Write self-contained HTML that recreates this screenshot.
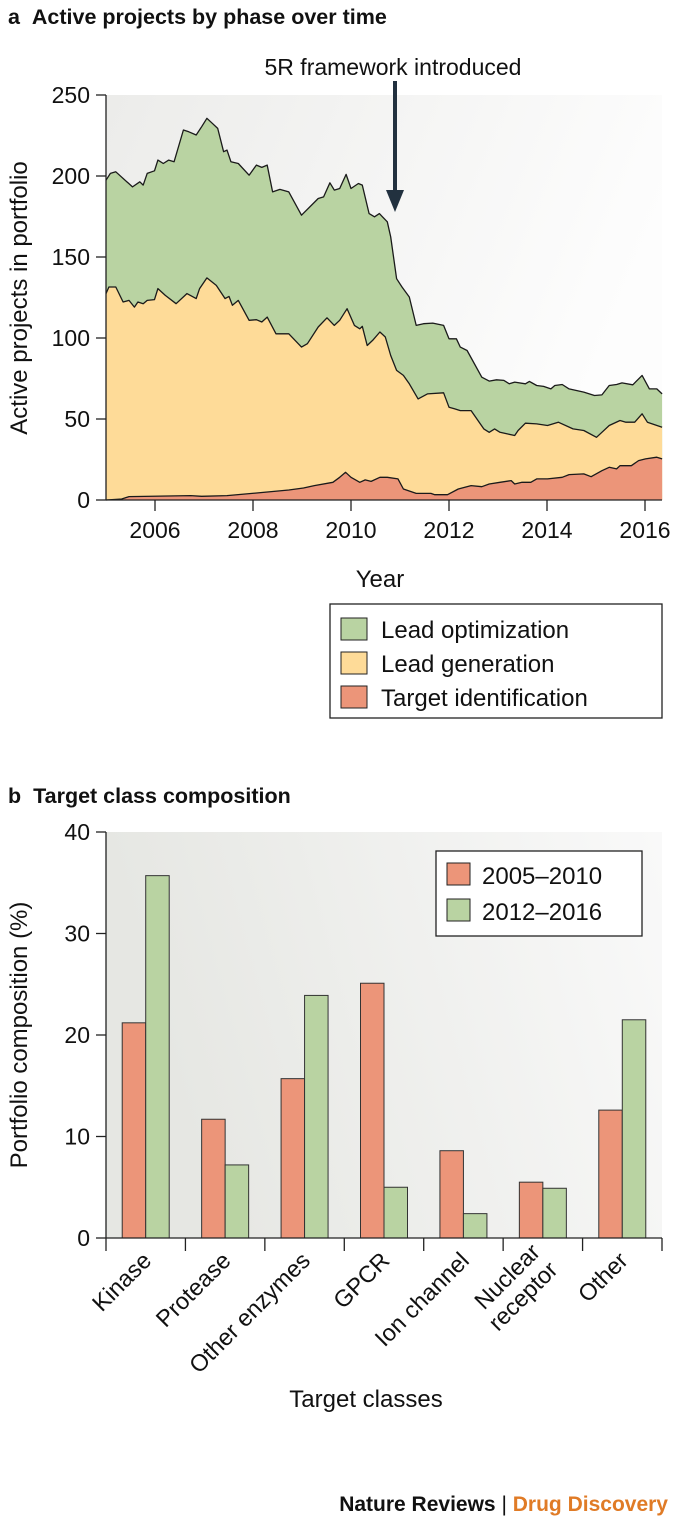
<!DOCTYPE html>
<html><head><meta charset="utf-8">
<style>
html,body{margin:0;padding:0;background:#fff;}
svg{display:block;font-family:"Liberation Sans",sans-serif;}
</style></head>
<body>
<svg id="fig" width="675" height="1533" viewBox="0 0 675 1533" xmlns="http://www.w3.org/2000/svg">
<defs>
<linearGradient id="bgA" x1="0" y1="0" x2="1" y2="0.3">
<stop offset="0" stop-color="#ececea"/><stop offset="1" stop-color="#fdfdfd"/></linearGradient>
<linearGradient id="bgB" x1="0" y1="0" x2="1" y2="-0.2">
<stop offset="0" stop-color="#e6e7e3"/><stop offset="1" stop-color="#fafafa"/></linearGradient>
</defs>
<g id="chartA">
<text x="8" y="24" font-size="21.5" font-weight="bold" fill="#111">a&#160;&#160;Active projects by phase over time</text>
<rect x="106" y="95" width="556" height="405" fill="url(#bgA)"/>
<g id="areasA"></g>
<g id="axesA"></g>
<text x="393" y="75" font-size="23" text-anchor="middle" fill="#111">5R framework introduced</text>
<line x1="395" y1="81" x2="395" y2="195" stroke="#22313f" stroke-width="4"/>
<polygon points="386,190 404,190 395,212" fill="#22313f"/>
<text transform="translate(27,298) rotate(-90)" font-size="24" text-anchor="middle" fill="#111">Active projects in portfolio</text>
<text x="380" y="587" font-size="24" text-anchor="middle" fill="#111">Year</text>
<g>
<rect x="330" y="604" width="332" height="114" fill="#fff" stroke="#222" stroke-width="1.3"/>
<rect x="341" y="618" width="26" height="22" fill="#b9d3a2" stroke="#222"/>
<text x="381" y="638" font-size="24" fill="#111">Lead optimization</text>
<rect x="341" y="652" width="26" height="22" fill="#fedb98" stroke="#222"/>
<text x="381" y="672" font-size="24" fill="#111">Lead generation</text>
<rect x="341" y="686" width="26" height="22" fill="#ec9579" stroke="#222"/>
<text x="381" y="706" font-size="24" fill="#111">Target identification</text>
</g>
</g>
<g id="chartB">
<text x="8" y="803" font-size="21.5" font-weight="bold" fill="#111">b&#160;&#160;Target class composition</text>
<rect x="106" y="832" width="556" height="406" fill="url(#bgB)"/>
<g id="barsB"></g>
<g id="axesB"></g>
<text transform="translate(27,1035) rotate(-90)" font-size="24" text-anchor="middle" fill="#111">Portfolio composition (%)</text>
<text x="366" y="1407" font-size="24" text-anchor="middle" fill="#111">Target classes</text>
<g>
<rect x="436" y="851" width="206" height="85" fill="#fff" stroke="#222" stroke-width="1.3"/>
<rect x="447" y="863" width="23" height="22" fill="#ec9579" stroke="#222"/>
<text x="482" y="884" font-size="24" fill="#111">2005–2010</text>
<rect x="447" y="899" width="23" height="22" fill="#b9d3a2" stroke="#222"/>
<text x="482" y="920" font-size="24" fill="#111">2012–2016</text>
</g>
</g>
<text x="668" y="1511" font-size="21" font-weight="bold" text-anchor="end" fill="#111">Nature Reviews <tspan font-weight="normal">|</tspan> <tspan fill="#e07b26">Drug Discovery</tspan></text>
</svg>
<script>
// Chart A data: cumulative stack boundaries
const totalYears=[2005.00,2005.09,2005.20,2005.54,2005.69,2005.76,2005.84,2005.99,2006.06,2006.17,2006.28,2006.39,2006.58,2006.69,2006.84,2006.95,2007.06,2007.17,2007.28,2007.40,2007.47,2007.55,2007.70,2007.92,2008.07,2008.18,2008.29,2008.40,2008.55,2008.73,2008.99,2009.33,2009.44,2009.57,2009.66,2009.77,2009.90,2010.00,2010.15,2010.23,2010.37,2010.48,2010.58,2010.74,2010.81,2010.93,2011.04,2011.19,2011.33,2011.48,2011.67,2011.89,2012.00,2012.15,2012.23,2012.37,2012.67,2012.82,2012.97,2013.12,2013.23,2013.34,2013.56,2013.64,2013.79,2013.93,2014.08,2014.16,2014.31,2014.45,2014.75,2014.97,2015.12,2015.27,2015.42,2015.53,2015.75,2015.94,2016.09,2016.24,2016.35];
const totalVals=[197.4,201.6,202.6,193.3,196.4,194.4,201.6,203.2,209.8,207.7,209.8,208.8,228.4,227.3,225.3,230.4,235.6,232.5,229.4,215.0,216.0,208.8,207.7,200.5,206.7,205.3,206.7,190.2,191.7,190.2,175.8,186.1,187.1,195.8,191.3,192.3,201.0,192.3,195.4,194.4,176.8,174.8,176.8,171.7,162.4,136.6,131.5,125.3,107.8,108.8,109.2,107.8,99.5,99.5,94.4,92.3,75.8,73.4,74.2,73.8,71.7,72.8,71.7,73.2,70.7,70.1,68.6,70.7,71.3,68.6,66.6,64.5,64.9,70.7,71.3,72.3,71.1,76.9,68.6,68.6,65.5];
const genYears=[2005.00,2005.06,2005.20,2005.35,2005.47,2005.58,2005.65,2005.76,2005.84,2005.99,2006.06,2006.21,2006.43,2006.65,2006.84,2006.91,2007.06,2007.25,2007.43,2007.51,2007.58,2007.70,2007.92,2008.07,2008.18,2008.29,2008.47,2008.73,2008.99,2009.11,2009.33,2009.51,2009.66,2009.77,2009.92,2010.07,2010.18,2010.23,2010.33,2010.44,2010.59,2010.70,2010.81,2010.93,2011.07,2011.19,2011.37,2011.56,2011.89,2012.00,2012.11,2012.23,2012.45,2012.71,2012.82,2012.93,2013.04,2013.19,2013.34,2013.41,2013.56,2013.79,2014.01,2014.23,2014.53,2014.75,2015.01,2015.12,2015.27,2015.49,2015.61,2015.79,2015.94,2016.05,2016.35];
const genVals=[127.4,131.5,131.5,122.2,123.2,119.1,122.2,121.2,123.2,123.7,130.5,126.3,121.2,127.4,124.3,130.5,137.1,132.5,124.3,125.7,120.2,123.2,110.9,111.3,109.9,112.9,102.6,102.6,94.4,96.5,106.8,112.5,107.8,110.9,118.1,107.8,105.7,107.2,95.4,98.5,103.7,100.6,89.2,80.0,76.9,71.7,62.4,65.5,66.2,57.3,56.3,55.2,55.2,43.9,41.8,43.9,41.8,40.8,39.8,42.9,47.4,47.0,46.0,48.0,43.9,42.9,38.7,41.8,46.0,49.1,48.0,48.0,53.2,48.0,44.9];
const tidYears=[2005.00,2005.32,2005.47,2006.73,2006.95,2007.47,2007.84,2008.21,2008.73,2009.03,2009.25,2009.63,2009.77,2009.89,2010.00,2010.18,2010.29,2010.41,2010.59,2010.74,2010.96,2011.07,2011.33,2011.63,2011.71,2011.97,2012.19,2012.45,2012.67,2012.82,2013.04,2013.27,2013.34,2013.49,2013.67,2013.79,2014.01,2014.31,2014.45,2014.75,2014.90,2015.12,2015.27,2015.42,2015.49,2015.72,2015.87,2016.01,2016.24,2016.35];
const tidVals=[0,0.6,2.1,2.7,2.3,2.7,3.7,4.7,6.2,7.4,8.9,10.9,14.0,17.1,14.0,10.9,12.4,11.5,14.0,14.0,13.0,6.8,4.1,4.1,3.3,3.3,6.8,8.9,8.2,9.9,10.9,12.0,9.9,10.9,10.9,13.0,13.0,14.0,15.7,16.1,14.4,18.1,20.2,19.2,21.2,21.2,24.3,25.4,26.4,25.4];
const yTicksA=[0,50,100,150,200,250];
const xTicksA=[2006,2008,2010,2012,2014,2016];

// Chart B data
const categories=["Kinase","Protease","Other enzymes","GPCR","Ion channel","Nuclear receptor","Other"];
const early=[21.2,11.7,15.7,25.1,8.6,5.5,12.6];
const late=[35.7,7.2,23.9,5.0,2.4,4.9,21.5];
const yTicksB=[0,10,20,30,40];

const NS="http://www.w3.org/2000/svg";
function mk(tag,attrs,parent){const e=document.createElementNS(NS,tag);for(const k in attrs)e.setAttribute(k,attrs[k]);parent.appendChild(e);return e;}
const xA=y=>106+(y-2005)*49;
const yA=v=>500-v*1.62;
function linePts(ys,vs){return ys.map((y,i)=>xA(y).toFixed(1)+","+yA(vs[i]).toFixed(1));}
const areas=document.getElementById("areasA");
function areaPath(ys,vs){const p=linePts(ys,vs);return "M"+xA(ys[0])+","+yA(0)+" L"+p.join(" L")+" L"+xA(ys[ys.length-1])+","+yA(0)+" Z";}
let a1=mk("path",{d:areaPath(totalYears,totalVals),fill:"#b9d3a2"},areas);


let a2=mk("path",{d:areaPath(genYears,genVals),fill:"#fedb98"},areas);


let a3=mk("path",{d:areaPath(tidYears,tidVals),fill:"#ec9579"},areas);


[[totalYears,totalVals,'line-total'],[genYears,genVals,'line-lead-generation-top'],[tidYears,tidVals,'line-target-identification-top']].forEach(s=>{
  let l=mk("polyline",{points:linePts(s[0],s[1]).join(" "),fill:"none",stroke:"#1a1a1a","stroke-width":1.3,"stroke-linejoin":"round"},areas);
  
  
});
const axA=document.getElementById("axesA");
let ya=mk("line",{x1:106,y1:95,x2:106,y2:500,stroke:"#222","stroke-width":1.3},axA);


let xa=mk("line",{x1:106,y1:500,x2:662,y2:500,stroke:"#222","stroke-width":1.3},axA);


yTicksA.forEach(v=>{
  mk("line",{x1:96,y1:yA(v),x2:106,y2:yA(v),stroke:"#222","stroke-width":1.3},axA);
  let t=mk("text",{x:90,y:yA(v)+8,"font-size":23,"text-anchor":"end",fill:"#111"},axA);
  t.textContent=v;
  
  
});
xTicksA.forEach(y=>{
  mk("line",{x1:xA(y),y1:500,x2:xA(y),y2:511,stroke:"#222","stroke-width":1.3},axA);
  let t=mk("text",{x:xA(y),y:538,"font-size":23,"text-anchor":"middle",fill:"#111"},axA);
  t.textContent=y;
  
  
});

// Chart B
const yB=v=>1238-v*10.15;
const gw=556/categories.length;
const bars=document.getElementById("barsB");
categories.forEach((c,i)=>{
  const cx=106+gw*(i+0.5);
  let r1=mk("rect",{x:cx-23.5,y:yB(early[i]),width:23.5,height:yB(0)-yB(early[i]),fill:"#ec9579",stroke:"#333","stroke-width":1},bars);
  
  
  let r2=mk("rect",{x:cx,y:yB(late[i]),width:23.5,height:yB(0)-yB(late[i]),fill:"#b9d3a2",stroke:"#333","stroke-width":1},bars);
  
  
});
const axB=document.getElementById("axesB");
let yb=mk("line",{x1:106,y1:832,x2:106,y2:1238,stroke:"#222","stroke-width":1.3},axB);


let xb=mk("line",{x1:106,y1:1238,x2:662,y2:1238,stroke:"#222","stroke-width":1.3},axB);


yTicksB.forEach(v=>{
  mk("line",{x1:96,y1:yB(v),x2:106,y2:yB(v),stroke:"#222","stroke-width":1.3},axB);
  let t=mk("text",{x:90,y:yB(v)+8,"font-size":23,"text-anchor":"end",fill:"#111"},axB);
  t.textContent=v;
  
  
});
for(let i=0;i<=categories.length;i++){
  mk("line",{x1:106+gw*i,y1:1238,x2:106+gw*i,y2:1251,stroke:"#222","stroke-width":1.3},axB);
}
categories.forEach((c,i)=>{
  const cx=106+gw*(i+0.5)+7;
  const two=c==="Nuclear receptor";
  const parts=two?["Nuclear","receptor"]:[c];
  let t=mk("text",{transform:"translate("+cx+",1262) rotate(-45)","font-size":23.5,"text-anchor":"end",fill:"#111"},axB);
  parts.forEach((p,j)=>{let s=mk("tspan",{x:0,dy:two?(j===0?-12:25):0},t);s.textContent=p;});
  
  
});
</script>
</body></html>
